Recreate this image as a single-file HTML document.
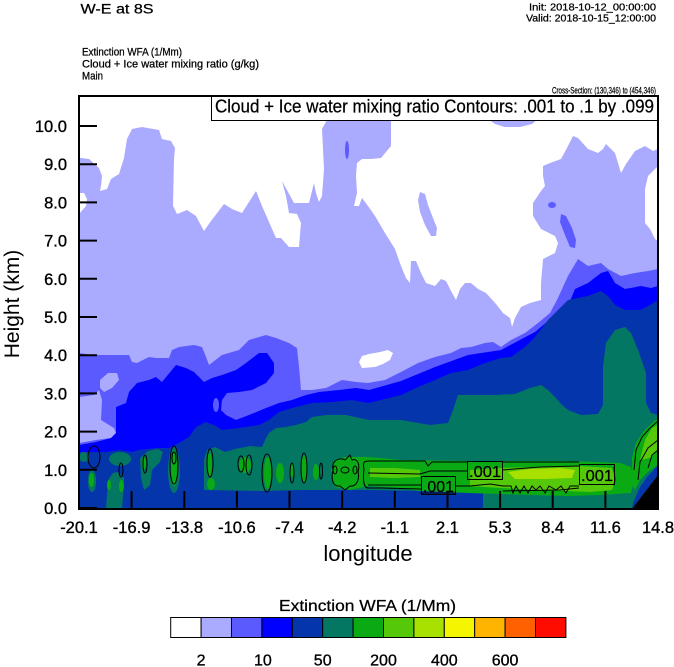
<!DOCTYPE html>
<html>
<head>
<meta charset="utf-8">
<style>
html,body{margin:0;padding:0;background:#fff;}
svg{display:block;}
text{font-family:"Liberation Sans",Arial,sans-serif;fill:#000;}
.b{stroke:#000;stroke-width:0.35;}
.s{stroke:#000;stroke-width:0.25;}
</style>
</head>
<body>
<svg width="674" height="667" viewBox="0 0 674 667" xmlns="http://www.w3.org/2000/svg">
<defs>
<clipPath id="pc"><rect x="79" y="96" width="579" height="413"/></clipPath>
</defs>

<!-- titles -->
<text class="s" x="80.5" y="13.5" font-size="13.5" textLength="73" lengthAdjust="spacingAndGlyphs">W-E at 8S</text>
<text class="s" x="529" y="10.7" font-size="10.5" textLength="127" lengthAdjust="spacingAndGlyphs">Init: 2018-10-12_00:00:00</text>
<text class="s" x="526" y="21.3" font-size="10.5" textLength="130" lengthAdjust="spacingAndGlyphs">Valid: 2018-10-15_12:00:00</text>
<text class="s" x="82" y="55.5" font-size="10.7" textLength="100" lengthAdjust="spacingAndGlyphs">Extinction WFA   (1/Mm)</text>
<text class="s" x="82" y="67.5" font-size="10.7" textLength="177" lengthAdjust="spacingAndGlyphs">Cloud + Ice water mixing ratio   (g/kg)</text>
<text class="s" x="82" y="79.5" font-size="10.7" textLength="21" lengthAdjust="spacingAndGlyphs">Main</text>
<text class="s" x="552" y="93.3" font-size="9.5" textLength="104" lengthAdjust="spacingAndGlyphs">Cross-Section: (130,346) to (454,346)</text>

<g clip-path="url(#pc)">
<rect x="79" y="96" width="579" height="413" fill="#ffffff"/>
<!-- lavender -->
<polygon fill="#aaaaff" points="79,157.7 89,159 99,168 102,176 101,186 100,191 107,189 111,179 119,174 124,158 127,139 132,129 142,127 159,130 162,139 171,141 175,148 174,159 173,206 177,214 187,210 196,216 204,231 211,221 224,204 232,209 242,213 256,191 262,206 276,238 281,238 289,247 299,247 301,223 297,214 289,213 286,196 282,181 288,192 294,203 309,203 314,183 316,193 319,202 322,196 324,169 322,129 327,120 391,120 391,126 391,146 381,158 371,159 362,159 357,163 356,176 357,193 354,206 359,206 362,198 368,206 375,216 385,233 395,249 401,266 406,278 410,283 411,261 416,261 421,273 426,283 435,286 441,279 446,281 451,291 456,300 460,289 465,283 471,283 478,289 486,293 496,304 503,313 510,318 512,327 515,318 521,307 530,303 541,300 541,283 543,259 555,253 558,243 555,236 541,229 533,216 533,203 541,191 545,186 543,176 543,166 550,163 561,159 568,146 573,136 578,138 588,149 598,153 603,149 606,144 615,153 618,163 621,173 626,164 635,151 645,146 653,151 658,149 658,166 648,176 645,189 645,223 650,229 655,239 658,241 658,509 79,509"/>
<polygon fill="#ffffff" points="79,193 84,193 87,199 86,206 79,214"/>
<polygon fill="#aaaaff" points="488,119 495,124 505,127 520,127 532,124 538,119"/>
<polygon fill="#aaaaff" points="420,192 425,194 428,205 433,218 437,228 436,236 431,236 425,225 420,212 418,200"/>
<ellipse cx="347" cy="150" rx="2" ry="9" fill="#5a5aff"/>
<ellipse cx="552" cy="205" rx="4" ry="3" fill="#5a5aff"/>
<polygon fill="#5a5aff" points="561,214 566,216 572,228 576,240 575,248 570,247 565,235 560,222"/>

<!-- medium blue -->
<polygon fill="#5a5aff" points="79,353 92,355 129,355 132,362 137,363 149,357 156,358 169,358 172,350 179,347 194,345 202,347 206,357 209,365 222,355 239,350 249,340 266,335 276,338 289,343 297,348 299,367 301,390 312,390 326,388 342,380 356,382 368,383 385,380 401,372 418,363 435,357 451,353 461,348 471,347 485,343 493,342 501,347 511,340 525,333 538,323 550,313 557,300 568,276 578,259 588,266 601,263 608,269 621,276 635,273 648,271 658,269 658,509 79,509"/>
<polygon fill="#aaaaff" points="79,397 94,395 99,390 102,400 101,420 109,425 114,428 116,433 111,438 96,440 79,443"/>
<polygon fill="#aaaaff" points="100,380 108,373 117,373 119,380 112,388 104,392 100,388"/>
<polygon fill="#ffffff" points="359,362 362,356 369,354 380,352 388,350 393,353 390,360 383,364 375,367 362,368"/>

<!-- blue -->
<polygon fill="#0000ff" points="79,445 96,442 111,438 116,433 116,407 126,403 129,392 137,383 149,380 156,377 162,382 176,365 186,368 194,372 204,382 212,378 222,375 236,370 246,363 259,353 267,353 274,363 274,373 266,383 252,390 239,392 227,393 222,400 221,410 226,415 236,420 249,415 266,408 279,403 292,400 306,395 319,392 339,390 356,388 369,390 401,381 435,367 468,355 501,350 535,332 555,315 568,306 575,289 588,283 601,273 608,271 615,283 625,289 641,286 651,288 658,286 658,509 79,509"/>
<ellipse cx="216" cy="405" rx="3" ry="7" fill="#5a5aff"/>

<!-- dark blue -->
<polygon fill="#0535aa" points="79,452 106,452 119,450 132,452 139,450 156,448 169,448 179,443 189,437 196,427 206,422 216,426 222,430 239,428 259,425 269,420 279,412 296,407 312,403 332,402 352,400 368,403 381,400 401,395 418,387 435,380 451,373 468,370 485,363 501,358 511,357 525,347 535,337 548,320 561,307 568,300 578,298 588,296 601,291 608,296 615,305 625,310 640,310 650,305 658,300 658,509 79,509"/>

<!-- teal -->
<polygon fill="#047763" points="204,490 204,460 207,450 215,447 225,452 235,449 250,446 262,447 266,438 269,433 276,428 286,427 296,425 306,422 312,417 326,415 346,415 369,420 401,420 430,425 448,423 453,410 458,395 470,395 495,395 515,394 530,388 541,385 548,390 555,397 562,405 568,410 581,415 598,414 603,405 603,367 606,343 615,330 625,327 631,333 638,350 646,373 646,403 651,413 658,415 658,509 483,509 483,492 369,490 300,490 262,491"/>
<ellipse cx="84" cy="457" rx="5" ry="5" fill="#047763"/>
<ellipse cx="120" cy="459" rx="11" ry="7" fill="#047763"/>
<polygon fill="#047763" points="108,480 113,473 118,472 124,478 123,495 122,509 106,509 107,495"/>
<ellipse cx="92" cy="481" rx="4" ry="11" fill="#047763"/>
<polygon fill="#047763" points="140,458 148,451 158,449 163,452 160,462 152,470 150,485 144,490 141,478"/>
<ellipse cx="174" cy="470" rx="6" ry="23" fill="#047763"/>

<!-- green -->
<g fill="#0aaa14">
<ellipse cx="91.5" cy="480" rx="2.5" ry="7"/>
<ellipse cx="109" cy="485" rx="2" ry="5"/>
<ellipse cx="121.5" cy="486" rx="2.5" ry="6"/>
<ellipse cx="144" cy="463" rx="2" ry="6"/>
<ellipse cx="174" cy="468" rx="3" ry="18"/>
<ellipse cx="209.5" cy="465" rx="2.5" ry="12"/>
<ellipse cx="211" cy="484" rx="4" ry="6"/>
<ellipse cx="245" cy="465" rx="6" ry="8"/>
<ellipse cx="267.5" cy="473" rx="3.5" ry="16"/>
<ellipse cx="280" cy="473" rx="4" ry="10"/>
<ellipse cx="292" cy="470" rx="2" ry="7"/>
<ellipse cx="304" cy="469" rx="3" ry="13"/>
<ellipse cx="316" cy="472" rx="3" ry="8"/>
<polygon points="331,470 335,460 345,457 368,457 401,460 468,461 568,461 620,463 631,467 634,480 631,493 600,495 568,496 468,493 421,491 401,488 368,486 350,490 335,487"/>
<polygon points="632,485 632,458 636,443 643,432 650,425 658,418 658,465 648,472 640,480 635,490"/>
</g>
<polygon fill="#55c80a" points="470,470 500,468 540,467 580,466 612,468 615,480 612,490 590,492 540,490 500,488 470,486"/>
<polygon fill="#55c80a" points="370,468 395,468 420,470 420,477 395,478 370,477"/>
<polygon fill="#55c80a" points="640,460 645,440 652,428 658,425 658,450 650,458"/>
<polygon fill="#a8e000" points="508,472 530,469 560,468 575,470 572,478 545,479 515,479"/>
<polygon fill="#0535aa" points="632,509 633,503 640,487 647,477 658,465 658,475"/>
<polygon fill="#000000" points="632,509 658,475 658,509"/>

<!-- contour lines -->
<g fill="none" stroke="#000" stroke-width="1">
<ellipse cx="94" cy="457" rx="6" ry="11"/>
<ellipse cx="121" cy="470" rx="2" ry="7"/>
<ellipse cx="145" cy="464" rx="2" ry="9"/>
<ellipse cx="174" cy="465" rx="4" ry="19"/>
<ellipse cx="174" cy="458" rx="2" ry="6"/>
<ellipse cx="210" cy="463" rx="3" ry="14"/>
<ellipse cx="241" cy="464" rx="3" ry="8"/>
<ellipse cx="249" cy="465" rx="3" ry="10"/>
<ellipse cx="267" cy="473" rx="5" ry="19"/>
<ellipse cx="292" cy="473" rx="2" ry="10"/>
<ellipse cx="304" cy="468" rx="3" ry="15"/>
<ellipse cx="321" cy="471" rx="1.5" ry="8"/>
<path d="M333,470 C331,460 340,457 345,460 L350,455 L352,460 C358,458 360,465 358,472 C360,480 356,487 350,486 L345,490 L340,486 C332,487 331,478 333,470 Z"/>
<ellipse cx="335" cy="470" rx="2" ry="4"/>
<ellipse cx="345" cy="470" rx="4" ry="3"/>
<ellipse cx="355" cy="470" rx="2" ry="4"/>
<path d="M364,469 C362,460 366,461 372,461 L425,461 L428,466 L432,462 L467,462 M502,462 L570,462 L579,462 M614,467 L615,480 L614,485 M579,488 L560,490 L503,491 M455,493 L420,493 M421,489 L380,488 L368,488 C363,488 363,478 364,469"/>
<path d="M368,473 L420,474 L430,471 L467,471 M502,470 L540,467 L579,466"/>
<path d="M368,485 L421,485 M455,486 L470,486 L490,484 L503,486 L511,486 L513,493 L516,486 L520,493 L524,486 L528,493 L532,486 L536,490 L540,486 L545,493 L549,486 L556,490 L561,486 L566,493 L570,486 L579,486"/>
<path d="M634,470 L636,450 L642,437 L650,428 L658,421 M638,480 L640,462 L648,448 L658,440 M648,468 L652,455 L658,450"/>
</g>
<!-- contour labels -->
<g fill="none" stroke="#000" stroke-width="1">
<rect x="421.5" y="476.5" width="34" height="18"/>
<rect x="467.5" y="461.5" width="35" height="18"/>
<rect x="579.5" y="464.5" width="35" height="20"/>
</g>
<text class="s" x="423" y="492" font-size="16" textLength="31" lengthAdjust="spacingAndGlyphs">.001</text>
<text class="s" x="469" y="477" font-size="16" textLength="32" lengthAdjust="spacingAndGlyphs">.001</text>
<text class="s" x="581" y="481" font-size="16" textLength="32" lengthAdjust="spacingAndGlyphs">.001</text>
</g>

<!-- contour info box -->
<rect x="211.5" y="96" width="446" height="24.5" fill="#ffffff" stroke="#000" stroke-width="1"/>
<text class="s" x="215" y="112.7" font-size="18.5" textLength="439" lengthAdjust="spacingAndGlyphs">Cloud + Ice water mixing ratio Contours: .001 to .1 by .099</text>

<!-- frame -->
<rect x="79" y="96" width="579" height="413" fill="none" stroke="#000" stroke-width="2"/>

<!-- y ticks -->
<g stroke="#000" stroke-width="2">
<line x1="79" y1="508" x2="97" y2="508"/>
<line x1="79" y1="469.8" x2="97" y2="469.8"/>
<line x1="79" y1="431.6" x2="97" y2="431.6"/>
<line x1="79" y1="393.4" x2="97" y2="393.4"/>
<line x1="79" y1="355.2" x2="97" y2="355.2"/>
<line x1="79" y1="317" x2="97" y2="317"/>
<line x1="79" y1="278.8" x2="97" y2="278.8"/>
<line x1="79" y1="240.6" x2="97" y2="240.6"/>
<line x1="79" y1="202.4" x2="97" y2="202.4"/>
<line x1="79" y1="164.2" x2="97" y2="164.2"/>
<line x1="79" y1="126" x2="97" y2="126"/>
<!-- x ticks -->
<line x1="131.6" y1="491" x2="131.6" y2="509"/>
<line x1="184.3" y1="491" x2="184.3" y2="509"/>
<line x1="236.9" y1="491" x2="236.9" y2="509"/>
<line x1="289.5" y1="491" x2="289.5" y2="509"/>
<line x1="342.2" y1="491" x2="342.2" y2="509"/>
<line x1="394.8" y1="491" x2="394.8" y2="509"/>
<line x1="447.5" y1="491" x2="447.5" y2="509"/>
<line x1="500.1" y1="491" x2="500.1" y2="509"/>
<line x1="552.7" y1="491" x2="552.7" y2="509"/>
<line x1="605.4" y1="491" x2="605.4" y2="509"/>
</g>

<!-- y tick labels -->
<g font-size="16.5" text-anchor="end" class="b">
<text x="67" y="514">0.0</text>
<text x="67" y="476">1.0</text>
<text x="67" y="437.6">2.0</text>
<text x="67" y="399.4">3.0</text>
<text x="67" y="361.2">4.0</text>
<text x="67" y="323">5.0</text>
<text x="67" y="284.8">6.0</text>
<text x="67" y="246.6">7.0</text>
<text x="67" y="208.4">8.0</text>
<text x="67" y="170.2">9.0</text>
<text x="67" y="132">10.0</text>
</g>
<!-- x tick labels -->
<g font-size="16.5" text-anchor="middle" class="b">
<text x="79" y="533">-20.1</text>
<text x="131.6" y="533">-16.9</text>
<text x="184.3" y="533">-13.8</text>
<text x="236.9" y="533">-10.6</text>
<text x="289.5" y="533">-7.4</text>
<text x="342.2" y="533">-4.2</text>
<text x="394.8" y="533">-1.1</text>
<text x="447.5" y="533">2.1</text>
<text x="500.1" y="533">5.3</text>
<text x="552.7" y="533">8.4</text>
<text x="605.4" y="533">11.6</text>
<text x="658" y="533">14.8</text>
</g>

<text x="368" y="561" font-size="22" text-anchor="middle">longitude</text>
<text transform="translate(19,304) rotate(-90)" x="0" y="0" font-size="21" text-anchor="middle">Height (km)</text>

<!-- colorbar -->
<text class="s" x="279" y="611" font-size="16" textLength="177" lengthAdjust="spacingAndGlyphs">Extinction WFA  (1/Mm)</text>
<g stroke="#000" stroke-width="1">
<rect x="170.7" y="617.5" width="30.4" height="20" fill="#ffffff"/>
<rect x="201.1" y="617.5" width="30.4" height="20" fill="#aaaaff"/>
<rect x="231.5" y="617.5" width="30.4" height="20" fill="#5a5aff"/>
<rect x="261.9" y="617.5" width="30.4" height="20" fill="#0000ff"/>
<rect x="292.3" y="617.5" width="30.4" height="20" fill="#0535aa"/>
<rect x="322.7" y="617.5" width="30.4" height="20" fill="#047763"/>
<rect x="353.1" y="617.5" width="30.4" height="20" fill="#0aaa14"/>
<rect x="383.5" y="617.5" width="30.4" height="20" fill="#55c80a"/>
<rect x="413.9" y="617.5" width="30.4" height="20" fill="#a8e000"/>
<rect x="444.3" y="617.5" width="30.4" height="20" fill="#f5f500"/>
<rect x="474.7" y="617.5" width="30.4" height="20" fill="#ffb400"/>
<rect x="505.1" y="617.5" width="30.4" height="20" fill="#ff6000"/>
<rect x="535.5" y="617.5" width="30.4" height="20" fill="#ff0c00"/>
</g>
<g font-size="16" text-anchor="middle" class="b">
<text x="201.1" y="665.5">2</text>
<text x="262.9" y="665.5">10</text>
<text x="322.7" y="665.5">50</text>
<text x="383.5" y="665.5">200</text>
<text x="444.3" y="665.5">400</text>
<text x="505.1" y="665.5">600</text>
</g>
</svg>
</body>
</html>
